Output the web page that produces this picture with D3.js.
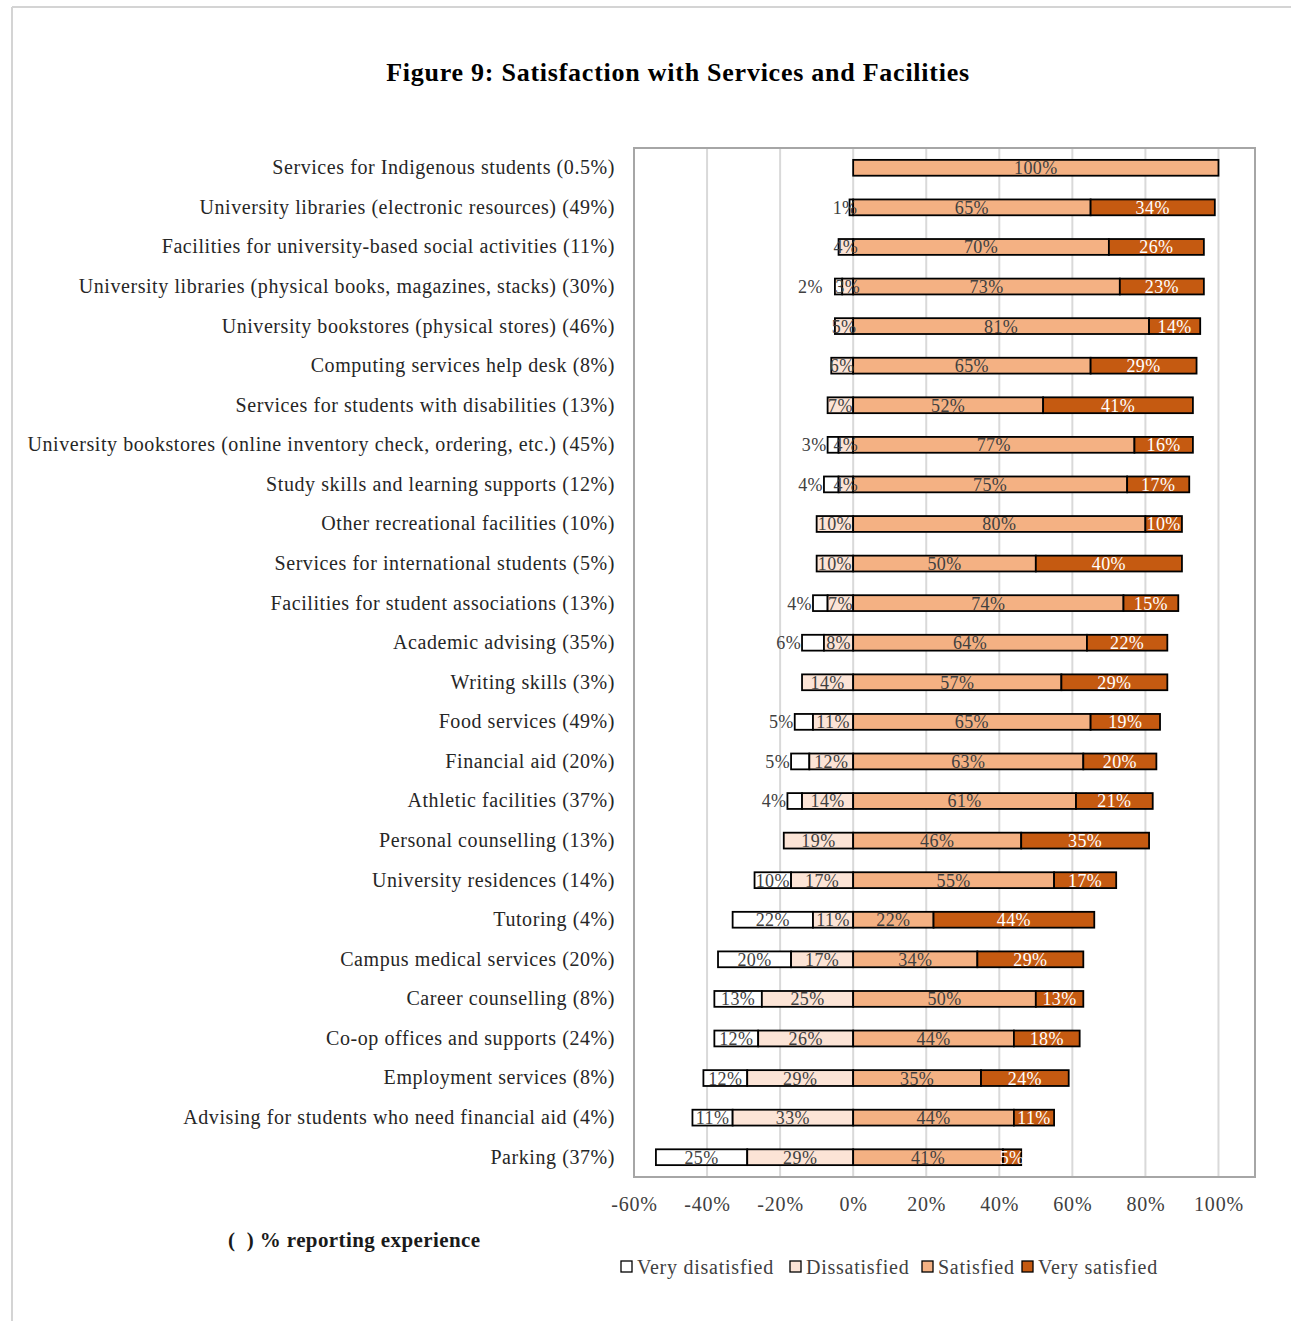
<!DOCTYPE html>
<html>
<head>
<meta charset="utf-8">
<script src="https://cdn.jsdelivr.net/npm/d3@7"></script>
<style>
  html, body { margin: 0; padding: 0; background: #fff; }
  svg { display: block; }
  text { font-family: "Liberation Serif", "DejaVu Serif", serif; }
</style>
</head>
<body>
<svg id="chart" width="1291" height="1321"></svg>
<script>
// Survey items, with the share of respondents reporting experience in brackets
const categories = [
  "Services for Indigenous students (0.5%)",
  "University libraries (electronic resources) (49%)",
  "Facilities for university-based social activities (11%)",
  "University libraries (physical books, magazines, stacks) (30%)",
  "University bookstores (physical stores) (46%)",
  "Computing services help desk (8%)",
  "Services for students with disabilities (13%)",
  "University bookstores (online inventory check, ordering, etc.) (45%)",
  "Study skills and learning supports (12%)",
  "Other recreational facilities (10%)",
  "Services for international students (5%)",
  "Facilities for student associations (13%)",
  "Academic advising (35%)",
  "Writing skills (3%)",
  "Food services (49%)",
  "Financial aid (20%)",
  "Athletic facilities (37%)",
  "Personal counselling (13%)",
  "University residences (14%)",
  "Tutoring (4%)",
  "Campus medical services (20%)",
  "Career counselling (8%)",
  "Co-op offices and supports (24%)",
  "Employment services (8%)",
  "Advising for students who need financial aid (4%)",
  "Parking (37%)"
];

// Percent of respondents in each satisfaction level
const veryDissatisfied = [0, 1, 0, 2, 0, 0, 0, 3, 4, 0, 0, 4, 6, 0, 5, 5, 4, 0, 10, 22, 20, 13, 12, 12, 11, 25];
const dissatisfied     = [0, 0, 4, 3, 5, 6, 7, 4, 4, 10, 10, 7, 8, 14, 11, 12, 14, 19, 17, 11, 17, 25, 26, 29, 33, 29];
const satisfied        = [100, 65, 70, 73, 81, 65, 52, 77, 75, 80, 50, 74, 64, 57, 65, 63, 61, 46, 55, 22, 34, 50, 44, 35, 44, 41];
const verySatisfied    = [0, 34, 26, 23, 14, 29, 41, 16, 17, 10, 40, 15, 22, 29, 19, 20, 21, 35, 17, 44, 29, 13, 18, 24, 11, 5];

const seriesNames = ["Very disatisfied", "Dissatisfied", "Satisfied", "Very satisfied"];
const tickValues = [-60, -40, -20, 0, 20, 40, 60, 80, 100];

const colors = ["#ffffff", "#fce4d6", "#f4b183", "#c55a11"];
const labelColors = ["#404040", "#404040", "#404040", "#ffffff"];

const svg = d3.select("#chart");

// page frame
svg.append("line").attr("x1", 12).attr("x2", 1291).attr("y1", 7).attr("y2", 7)
  .attr("stroke", "#d4d4d4").attr("stroke-width", 2);
svg.append("line").attr("x1", 12).attr("x2", 12).attr("y1", 7).attr("y2", 1321)
  .attr("stroke", "#d4d4d4").attr("stroke-width", 2);

// title
svg.append("text")
  .attr("x", 678).attr("y", 81)
  .attr("text-anchor", "middle")
  .attr("font-size", 26).attr("font-weight", "bold").attr("fill", "#000")
  .attr("letter-spacing", 0.75)
  .text("Figure 9: Satisfaction with Services and Facilities");

const plot = { left: 634, right: 1255, top: 148, bottom: 1177 };

const x = d3.scaleLinear().domain([-60, 110]).range([plot.left, plot.right]);
const y = d3.scaleBand().domain(categories).range([plot.top, plot.bottom])
  .paddingInner(0.6).paddingOuter(0.3);

// gridlines
svg.append("g")
  .selectAll("line")
  .data(tickValues.filter(v => v > -60))
  .join("line")
  .attr("x1", d => x(d)).attr("x2", d => x(d))
  .attr("y1", plot.top).attr("y2", plot.bottom)
  .attr("stroke", "#d9d9d9").attr("stroke-width", 2);

// plot border
svg.append("rect")
  .attr("x", plot.left).attr("y", plot.top)
  .attr("width", plot.right - plot.left).attr("height", plot.bottom - plot.top)
  .attr("fill", "none").attr("stroke", "#a6a6a6").attr("stroke-width", 2);

// x axis
const xAxis = d3.axisBottom(x).tickValues(tickValues).tickSize(0).tickPadding(20)
  .tickFormat(d => d + "%");
const gx = svg.append("g").attr("transform", `translate(0,${plot.bottom})`).call(xAxis);
gx.select(".domain").remove();
gx.selectAll("text")
  .attr("font-family", "Liberation Serif, serif")
  .attr("font-size", 20).attr("letter-spacing", 0.8).attr("fill", "#404040");

// category axis
const yAxis = d3.axisLeft(y).tickSize(0).tickPadding(19);
const gy = svg.append("g").attr("transform", `translate(${plot.left},0)`).call(yAxis);
gy.select(".domain").remove();
gy.selectAll("text")
  .attr("font-family", "Liberation Serif, serif")
  .attr("font-size", 20).attr("letter-spacing", 0.57).attr("fill", "#262626");

// build diverging segments
const segments = [];
categories.forEach((c, i) => {
  const vd = veryDissatisfied[i], ds = dissatisfied[i], st = satisfied[i], vs = verySatisfied[i];
  const parts = [
    { k: 0, v: vd, x0: -(vd + ds), x1: -ds },
    { k: 1, v: ds, x0: -ds, x1: 0 },
    { k: 2, v: st, x0: 0, x1: st },
    { k: 3, v: vs, x0: st, x1: st + vs }
  ];
  parts.forEach(p => { if (p.v > 0) segments.push({ cat: c, ...p }); });
});

const bars = svg.append("g");
bars.selectAll("rect")
  .data(segments)
  .join("rect")
  .attr("x", d => x(d.x0))
  .attr("y", d => y(d.cat))
  .attr("width", d => x(d.x1) - x(d.x0))
  .attr("height", y.bandwidth())
  .attr("fill", d => colors[d.k])
  .attr("stroke", "#000")
  .attr("stroke-width", 1.8);

// value labels; narrow very-dissatisfied slices are labelled outside the bar
const outside = d => d.k === 0 && d.v < 7;
const outsideGap = d => d.v === 2 ? 12 : d.v === 1 ? -8 : 1;
bars.selectAll("text")
  .data(segments)
  .join("text")
  .attr("x", d => outside(d) ? x(d.x0) - outsideGap(d) : x((d.x0 + d.x1) / 2))
  .attr("y", d => y(d.cat) + y.bandwidth() / 2)
  .attr("dy", "0.36em")
  .attr("text-anchor", d => outside(d) ? "end" : "middle")
  .attr("font-size", 18).attr("letter-spacing", 0.4)
  .attr("fill", d => outside(d) ? "#404040" : labelColors[d.k])
  .text(d => d.v + "%");

// note on bracketed values
svg.append("text")
  .attr("x", 228).attr("y", 1247)
  .attr("font-size", 21).attr("font-weight", "bold").attr("fill", "#1a1a1a")
  .attr("letter-spacing", 0.4)
  .attr("xml:space", "preserve")
  .text("(  ) % reporting experience");

// legend
const legendX = [621, 790, 922, 1022];
const legend = svg.append("g").selectAll("g")
  .data(seriesNames)
  .join("g")
  .attr("transform", (d, i) => `translate(${legendX[i]},1261)`);
legend.append("rect")
  .attr("width", 11).attr("height", 11)
  .attr("fill", (d, i) => colors[i]).attr("stroke", "#000").attr("stroke-width", 1.3);
legend.append("text")
  .attr("x", 16).attr("y", 6).attr("dy", "0.36em")
  .attr("font-size", 20).attr("letter-spacing", 0.75).attr("fill", "#404040")
  .text(d => d);
</script>
</body>
</html>
